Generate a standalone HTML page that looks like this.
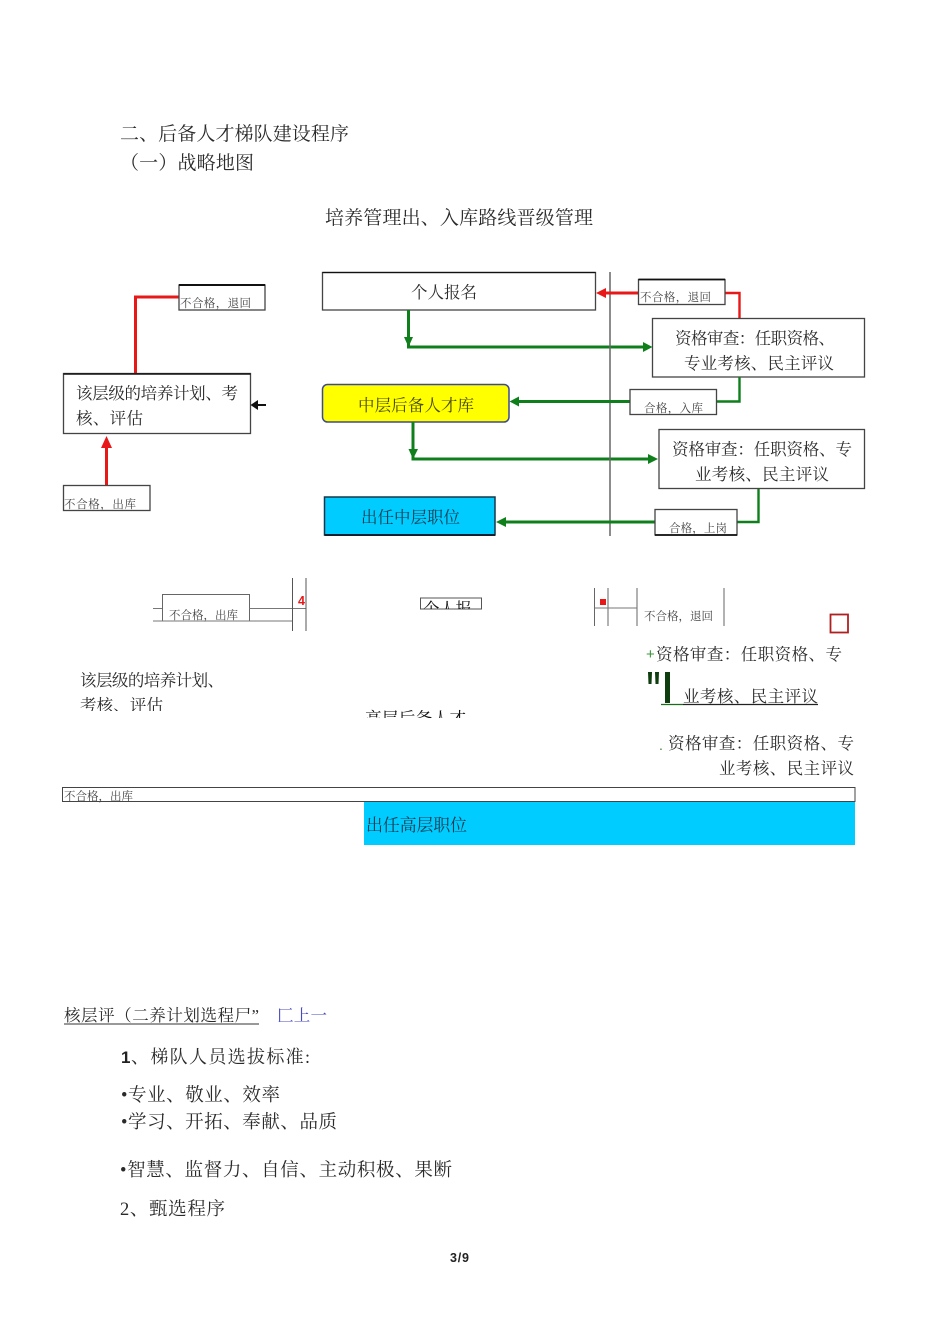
<!DOCTYPE html>
<html lang="zh-CN">
<head>
<meta charset="utf-8">
<title>后备人才梯队建设程序</title>
<style>
html,body{margin:0;padding:0;background:#fff;width:950px;height:1344px;overflow:hidden}
svg{display:block;position:absolute;left:0;top:0;filter:blur(0.35px)}
text{font-family:"Liberation Serif","Noto Serif CJK SC",serif;fill:#2a2a2a}
.t19{font-size:19px}
.t16{font-size:16.5px}
.t11{font-size:11.5px;fill:#444}
.b{fill:#fff;stroke:#444;stroke-width:1.3}
.r{fill:none;stroke:#e81818;stroke-width:3}
.g{fill:none;stroke:#0f7f1c;stroke-width:3}
.ra{fill:#e81818}
.ga{fill:#0f7f1c}
.l{stroke:#777;stroke-width:1;fill:none}
</style>
</head>
<body>
<svg width="950" height="1344" viewBox="0 0 950 1344" xmlns="http://www.w3.org/2000/svg">
<defs>
<clipPath id="c1"><rect x="60" y="660" width="300" height="51"/></clipPath>
<clipPath id="c2"><rect x="340" y="700" width="200" height="18"/></clipPath>
<clipPath id="c3"><rect x="420" y="598" width="62" height="11"/></clipPath>
</defs>

<text class="t19" x="120" y="140" textLength="229">二、后备人才梯队建设程序</text>
<text class="t19" x="120" y="169" textLength="134">（一）战略地图</text>
<text class="t19" x="325" y="224" textLength="268">培养管理出、入库路线晋级管理</text>

<!-- left column -->
<path class="r" d="M135.5 373V297H180"/>
<rect class="b" x="179" y="285" width="86" height="25"/>
<line x1="179" y1="285" x2="265" y2="285" stroke="#111" stroke-width="2"/>
<text class="t11" x="180" y="307" textLength="71">不合格，退回</text>

<rect class="b" x="63.5" y="373.5" width="187" height="60"/>
<line x1="63.5" y1="374" x2="250.5" y2="374" stroke="#111" stroke-width="1.6"/>
<text class="t16" x="76" y="399" textLength="162">该层级的培养计划、考</text>
<text class="t16" x="76" y="424" textLength="67">核、评估</text>
<path d="M250.5 405L258 400V404H266V406H258V410Z" fill="#111"/>

<path class="r" d="M106.5 485V446"/>
<path class="ra" d="M106.5 436L112 448H101Z"/>
<rect class="b" x="63.5" y="485.5" width="86.5" height="25"/>
<text class="t11" x="64" y="508" textLength="72">不合格，出库</text>

<!-- centre -->
<rect class="b" x="322.5" y="272.5" width="273" height="37.5"/>
<line x1="322.5" y1="272.5" x2="595.5" y2="272.5" stroke="#111" stroke-width="1.2"/>
<text class="t16" x="411" y="298" textLength="66">个人报名</text>
<path class="g" d="M408.5 310V347H645"/>
<path class="ga" d="M408.5 347L404 337H413Z"/>
<path class="ga" d="M652.5 347L643 342V352Z"/>

<rect x="322.5" y="384.5" width="186.5" height="37.5" rx="5" fill="#ffff00" stroke="#3d4a92" stroke-width="1.5"/>
<text class="t16" x="358" y="411" textLength="116" style="fill:#4a4a10">中层后备人才库</text>
<path class="g" d="M413 422V459H650"/>
<path class="ga" d="M413 459L408.5 449H418Z"/>
<path class="ga" d="M658 459L648 454V464Z"/>

<rect x="324.5" y="497" width="170.5" height="38" fill="#00ccff" stroke="#16384a" stroke-width="1.5"/>
<line x1="324.5" y1="535" x2="495" y2="535" stroke="#102030" stroke-width="2"/>
<text class="t16" x="361" y="523" textLength="99" style="fill:#123c50">出任中层职位</text>

<line x1="610" y1="272" x2="610" y2="536" stroke="#666" stroke-width="1.5"/>

<!-- right column -->
<path class="r" style="stroke-width:2.4" d="M725 293H739.500V319"/>
<path class="r" d="M639 293H604"/>
<path class="ra" d="M596 293L606 288V298Z"/>
<rect class="b" x="638.5" y="279.5" width="86.5" height="25"/>
<line x1="638.5" y1="279.5" x2="725" y2="279.5" stroke="#111" stroke-width="1.8"/>
<text class="t11" x="640" y="301" textLength="71">不合格，退回</text>

<rect class="b" x="652.5" y="318.5" width="212" height="58.5"/>
<text class="t16" x="675" y="344" textLength="160">资格审查：任职资格、</text>
<text class="t16" x="684" y="369" textLength="150">专业考核、民主评议</text>

<path class="g" style="stroke-width:2.4" d="M739.500 377V401.500H716"/>
<path class="g" d="M630 401.500H517"/>
<path class="ga" d="M509.500 401.500L519 396.500V406.500Z"/>
<rect class="b" x="630" y="389.500" width="86.500" height="25"/>
<text class="t11" x="644" y="412" textLength="59">合格，入库</text>

<rect class="b" x="659" y="429.500" width="205.500" height="59"/>
<text class="t16" x="672" y="455" textLength="180">资格审查：任职资格、专</text>
<text class="t16" x="695" y="480" textLength="134">业考核、民主评议</text>

<path class="g" style="stroke-width:2.4" d="M758.500 489V522H737"/>
<path class="g" d="M655 522H504"/>
<path class="ga" d="M496 522L506 517V527Z"/>
<rect class="b" x="655" y="509.500" width="82" height="25.500"/>
<line x1="655" y1="535" x2="737" y2="535" stroke="#111" stroke-width="1.800"/>
<text class="t11" x="669" y="532" textLength="58">合格，上岗</text>

<!-- second section -->
<rect x="162.500" y="594.500" width="87" height="26.500" fill="#fff" stroke="#666" stroke-width="1"/>
<path class="l" d="M153 608.500H162M249.500 608.500H306M153 621H292.500"/>
<path d="M292.500 578V631M306 578V631" stroke="#555" stroke-width="1" fill="none"/>
<text x="298" y="605" style="font-family:'Liberation Sans',sans-serif;font-weight:bold;font-size:12.500px;fill:#e81818">4</text>
<text class="t11" x="169" y="619" textLength="69">不合格，出库</text>

<rect x="420.500" y="598" width="61" height="11" fill="#fff" stroke="#555" stroke-width="1"/>
<g clip-path="url(#c3)"><text class="t16" x="423" y="614.500" textLength="49" style="fill:#111">个人报</text></g>

<path d="M594.500 588V626M608 588V626M637 588V626M724 588V626" stroke="#666" stroke-width="1" fill="none"/>
<path class="l" d="M594.500 608H637"/>
<rect x="600" y="599" width="6" height="6" fill="#e81818"/>
<text class="t11" x="644" y="620" textLength="69">不合格，退回</text>

<rect x="830.500" y="614.500" width="17.500" height="18" fill="#fff" stroke="#b02020" stroke-width="1.800"/>

<text x="646" y="659" style="font-size:15px;fill:#3a963a;font-family:'Liberation Sans',sans-serif">+</text>
<text class="t16" x="656" y="660" textLength="186">资格审查：任职资格、专</text>
<path d="M648 672H652L651.500 684H648.500ZM655 672H659L658.500 684H655.500Z" fill="#0e3d0e"/>
<rect x="665" y="672" width="5" height="31" fill="#0e3d0e"/>
<text class="t16" x="683" y="702" textLength="135">业考核、民主评议</text>
<line x1="661" y1="704.500" x2="683" y2="704.500" stroke="#1c6a1c" stroke-width="1.200"/>
<line x1="683" y1="704.500" x2="818" y2="704.500" stroke="#222" stroke-width="1.200"/>

<text x="659" y="750" style="font-size:14px;fill:#3a863a;font-family:'Liberation Sans',sans-serif">.</text>
<text class="t16" x="668" y="749" textLength="186">资格审查：任职资格、专</text>
<text class="t16" x="719" y="774" textLength="135">业考核、民主评议</text>

<text class="t16" x="80" y="686" textLength="144">该层级的培养计划、</text>
<g clip-path="url(#c1)"><text class="t16" x="80" y="711" textLength="83">考核、评估</text></g>
<g clip-path="url(#c2)"><text class="t16" x="365" y="724" textLength="101" style="fill:#111">高层后备人才</text></g>

<rect x="62.500" y="787.500" width="792.500" height="14" fill="#fff" stroke="#444" stroke-width="1"/>
<text class="t11" x="64" y="800" textLength="69">不合格，出库</text>
<rect x="364" y="802" width="491" height="43" fill="#00ccff"/>
<text x="366" y="831" textLength="101" style="font-size:17px;fill:#123c50">出任高层职位</text>

<!-- lower text -->
<text class="t16" x="64" y="1021" textLength="195">核层评（二养计划选程尸”</text>
<line x1="64" y1="1024" x2="259" y2="1024" stroke="#333" stroke-width="1"/>
<text class="t16" x="277" y="1021" textLength="50" style="fill:#4a4ac0">匚上一</text>

<text x="121" y="1063" style="font-family:'Liberation Sans',sans-serif;font-weight:bold;font-size:17px;fill:#222">1</text>
<text class="t19" x="131" y="1063" textLength="179" style="font-size:18px">、梯队人员选拔标准:</text>
<text x="121" y="1101" textLength="159" style="font-size:18.500px">•专业、敬业、效率</text>
<text x="121" y="1128" textLength="216" style="font-size:18.500px">•学习、开拓、奉献、品质</text>
<text x="120" y="1176" textLength="332" style="font-size:18.500px">•智慧、监督力、自信、主动积极、果断</text>
<text x="120" y="1215" textLength="105" style="font-size:18.500px">2、甄选程序</text>
<text x="450" y="1262" textLength="19" style="font-family:'Liberation Sans',sans-serif;font-weight:bold;font-size:12.500px;fill:#222">3/9</text>
</svg>
</body>
</html>
